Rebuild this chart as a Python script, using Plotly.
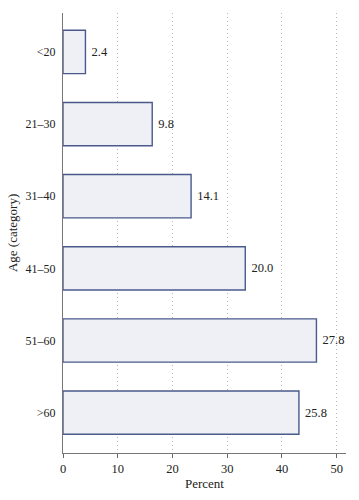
import plotly.graph_objects as go

categories = ["<20", "21–30", "31–40", "41–50", "51–60", ">60"]
bar_values = [4.1, 16.3, 23.4, 33.3, 46.3, 43.1]
label_values = ["2.4", "9.8", "14.1", "20.0", "27.8", "25.8"]
x_ticks = [0, 10, 20, 30, 40, 50]

font_family = "Liberation Serif, Times New Roman, serif"

fig = go.Figure()
fig.add_trace(go.Bar(
    y=categories,
    x=bar_values,
    orientation="h",
    text=label_values,
    texttemplate="\u00a0%{text}",
    textposition="outside",
    textfont=dict(family=font_family, size=12.5, color="#222"),
    marker=dict(color="#EEF0F5", line=dict(color="#4A5A8C", width=1.4)),
    cliponaxis=False,
    width=0.6,
))

fig.update_layout(
    width=359, height=500,
    margin=dict(l=63, r=13, t=13, b=47, autoexpand=False),
    plot_bgcolor="white", paper_bgcolor="white",
    showlegend=False,
    font=dict(family=font_family, size=12.5, color="#222"),
    xaxis=dict(
        range=[0, 51.7],
        tickvals=x_ticks,
        ticks="outside", ticklen=4, tickcolor="#666",
        showline=True, linecolor="#777", linewidth=1.2,
        showgrid=True, gridcolor="#B8B8B8", griddash="1px,3px", gridwidth=1,
        zeroline=False,
        automargin=False,
        title=dict(text="Percent", standoff=2, font=dict(size=13)),
        tickfont=dict(size=12.5),
    ),
    yaxis=dict(
        categoryorder="array", categoryarray=categories,
        range=[5.56, -0.54],
        showline=True, linecolor="#777", linewidth=1.2,
        ticks="", showgrid=False, zeroline=False,
        automargin=False,
        ticklabelstandoff=4,
        tickfont=dict(size=12),
    ),
    annotations=[dict(
        text="Age (category)", textangle=-90,
        xref="paper", yref="paper", x=-0.18, y=0.5,
        xanchor="center", yanchor="middle", showarrow=False,
        font=dict(family=font_family, size=13, color="#222"),
    )],
)

fig.write_html("out.html", config={"displayModeBar": False},
               post_script="document.body.style.margin='0';")
